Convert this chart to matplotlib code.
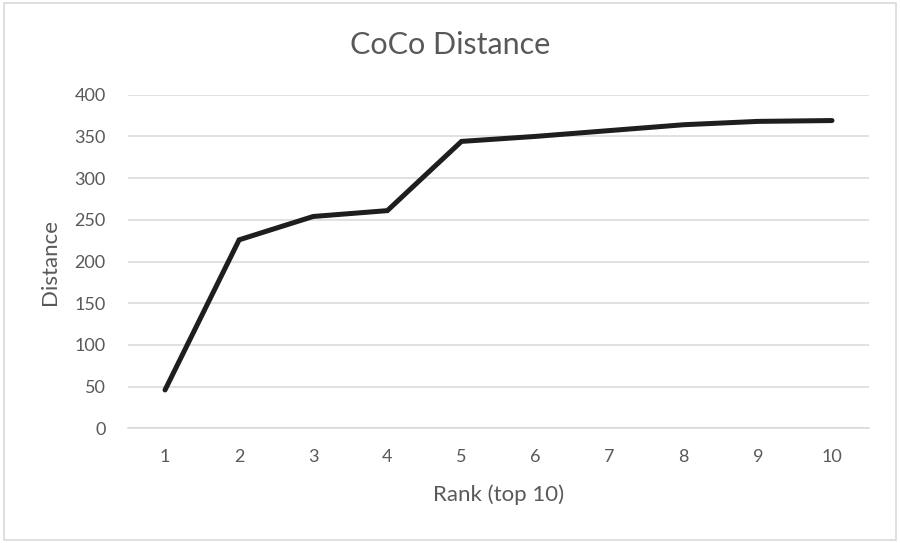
import matplotlib.pyplot as plt
from matplotlib.patches import Rectangle

# data
rank = [1, 2, 3, 4, 5, 6, 7, 8, 9, 10]
distance = [46, 226, 254, 261, 344, 350, 357, 364, 368, 369]
yticks = [0, 50, 100, 150, 200, 250, 300, 350, 400]

plt.rcParams['font.family'] = ['Lato', 'DejaVu Sans']
txt = "#595959"
grid = "#d9d9d9"

fig = plt.figure(figsize=(9, 5.43), dpi=100)
ax = fig.add_axes([0.1422, 0.2112, 0.8234, 0.6144])

ax.plot(rank, distance, color="#1e1e1e", lw=3.6, solid_joinstyle="miter",
        solid_capstyle="round", zorder=3)

ax.set_xlim(0.5, 10.5)
ax.set_ylim(0, 400)
ax.set_xticks(rank)
ax.set_yticks(yticks)
ax.yaxis.grid(True, color=grid, lw=1.1)
ax.set_axisbelow(True)
for s in ("top", "right", "left"):
    ax.spines[s].set_visible(False)
ax.spines["bottom"].set_color(grid)
ax.spines["bottom"].set_linewidth(1.1)
ax.tick_params(length=0, labelsize=13, colors=txt, pad=15)
ax.tick_params(axis="y", pad=16)

ax.set_xlabel("Rank (top 10)", fontsize=16, color=txt, labelpad=14)
ax.set_ylabel("Distance", fontsize=16, color=txt, labelpad=10)
fig.text(0.5, 0.917, "CoCo Distance", ha="center", va="center", fontsize=22, color=txt)

# light border around the chart area
fig.patches.append(Rectangle((0.004, 0.005), 0.992, 0.989, transform=fig.transFigure,
                             fill=False, ec="#d9d9d9", lw=1.2))

fig.savefig("out.png", dpi=100)
